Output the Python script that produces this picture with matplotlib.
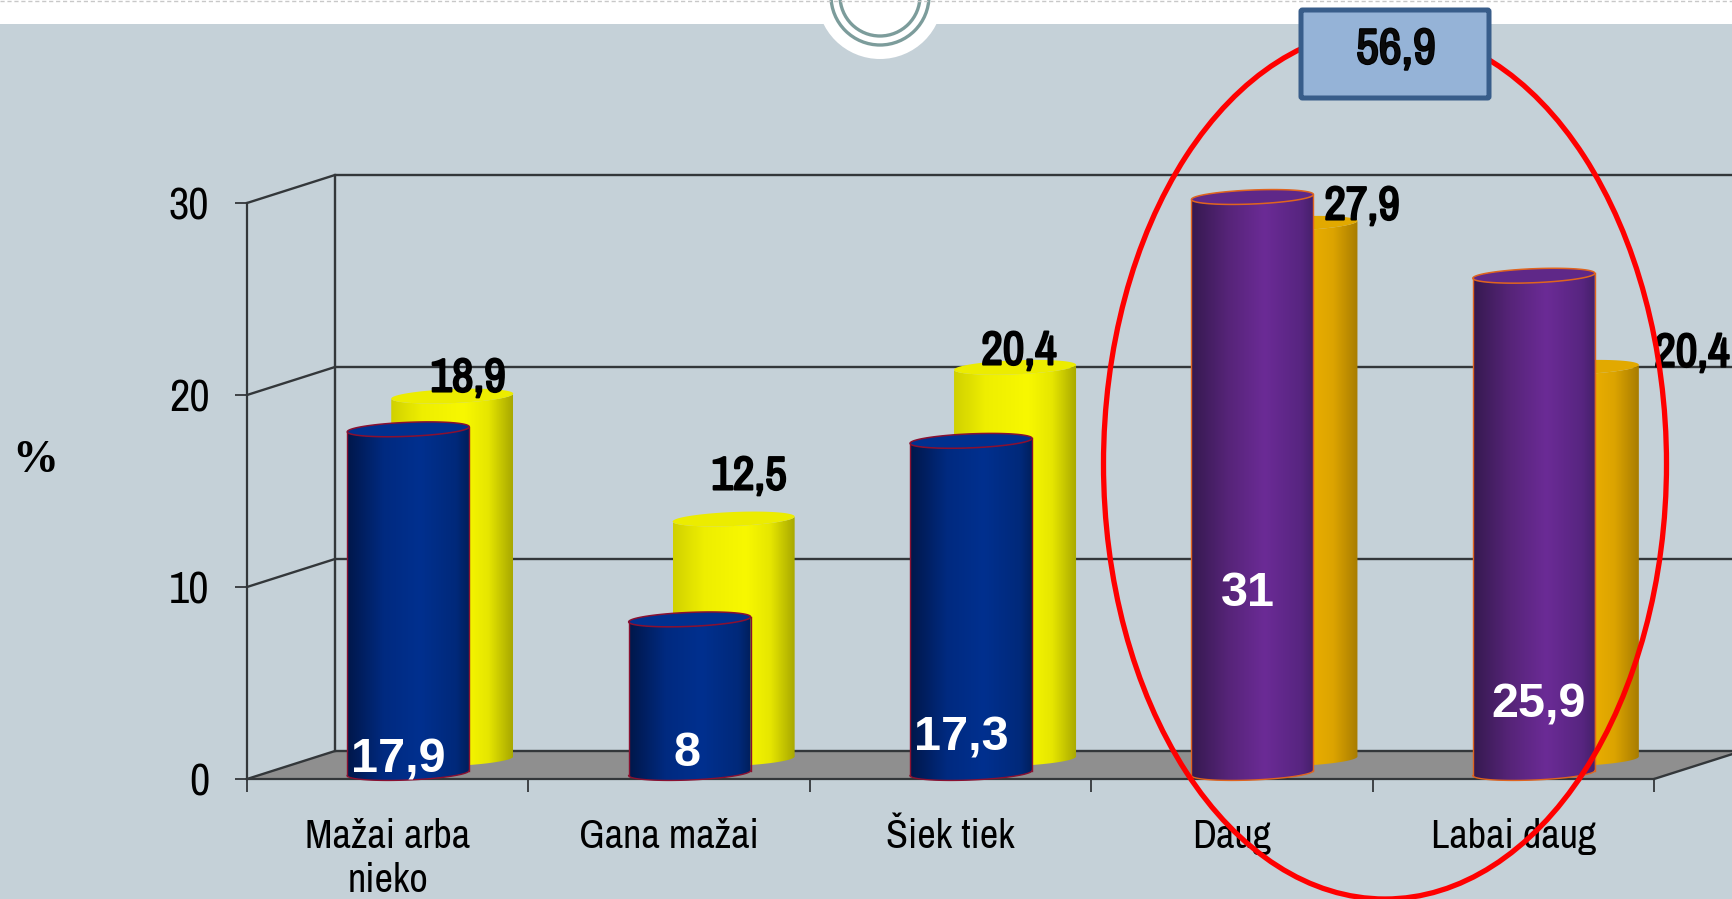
# -*- coding: utf-8 -*-
import numpy as np
import matplotlib
matplotlib.use('Agg')
import matplotlib.pyplot as plt
import matplotlib.patheffects as pe
from matplotlib.colors import LinearSegmentedColormap
from matplotlib.patches import Circle, Ellipse, FancyBboxPatch, PathPatch, Polygon
from matplotlib.path import Path

# --- Dados ---
categorias = ['Mažai arba\nnieko', 'Gana mažai', 'Šiek tiek', 'Daug', 'Labai daug']
valores_frente = [17.9, 8, 17.3, 31, 25.9]
valores_fundo = [18.9, 12.5, 20.4, 27.9, 20.4]
rotulos_frente = ['17,9', '8', '17,3', '31', '25,9']
rotulos_fundo = ['18,9', '12,5', '20,4', '27,9', '20,4']
ticks_y = [0, 10, 20, 30]
total_destaque = '56,9'

# --- Layout em pixels ---
W, H = 1732, 899
X0, X1 = 247, 1654     # plano da frente
Y0, Y30 = 779, 203
DX_PX, DY_PX = 88, 28  # profundidade
YMAX = 30

NARROW = ['Archivo Narrow', 'Liberation Sans', 'DejaVu Sans']
SANS = ['Liberation Sans', 'DejaVu Sans']
COR_FUNDO = '#c5d1d8'
COR_LINHA = '#33373a'
# Archivo Narrow não tem bold aqui, o traço engrossa o texto
NEGRITO = [pe.withStroke(linewidth=1.5, foreground='black')]

fig = plt.figure(figsize=(W / 100, H / 100), dpi=100, facecolor=COR_FUNDO)

# camada de fundo em pixels
bg = fig.add_axes([0, 0, 1, 1], zorder=0)
bg.set_xlim(0, W)
bg.set_ylim(H, 0)
bg.axis('off')
bg.fill_between([0, W], 0, 24, color='white', lw=0)
bg.plot([0, W], [0.5, 0.5], color='#c8c8c8', lw=1, ls=(0, (3, 2)))
bg.add_patch(Circle((880, -4), 63, fc='white', ec='none'))
bg.add_patch(Circle((880, -4), 49, fc='none', ec='#7c9c9b', lw=2.4))
bg.add_patch(Circle((880, -4), 40, fc='none', ec='#7c9c9b', lw=2.4))

# --- Eixo principal ---
ax = fig.add_axes([X0 / W, 1 - Y0 / H, (X1 - X0) / W, (Y0 - Y30) / H], zorder=1)
ax.patch.set_alpha(0)
n = len(categorias)
ax.set_xlim(0, n)
ax.set_ylim(0, YMAX)
px_x = n / (X1 - X0)
px_y = YMAX / (Y0 - Y30)
dx, dy = DX_PX * px_x, DY_PX * px_y

for s in ['top', 'right']:
    ax.spines[s].set_visible(False)
for s in ['left', 'bottom']:
    ax.spines[s].set_color(COR_LINHA)
    ax.spines[s].set_linewidth(1.6)

ax.set_yticks(ticks_y)
ax.set_xticks(np.arange(n + 1))
ax.set_xticklabels([])
ax.set_xticks(np.arange(n) + 0.5, categorias, minor=True)
ax.tick_params(axis='y', length=9, width=1.3, color=COR_LINHA, pad=18)
ax.tick_params(axis='x', which='major', length=9, width=1.3, color=COR_LINHA)
ax.tick_params(axis='x', which='minor', length=0, pad=28)
for t in ax.get_yticklabels() + ax.get_xticklabels(minor=True):
    t.set_fontfamily(NARROW)
for t in ax.get_yticklabels():
    t.set_fontsize(32)
for t in ax.get_xticklabels(minor=True):
    t.set_fontsize(29)
    t.set_linespacing(1.25)

# parede do fundo e chão
ax.add_patch(Polygon([(0, 0), (n, 0), (n + dx, dy), (dx, dy)], closed=True,
                     fc='#8f8f8f', ec='none', clip_on=False, zorder=1))
for v in ticks_y:
    ax.plot([0, dx, n + dx], [v, v + dy, v + dy], color=COR_LINHA, lw=1.7,
            clip_on=False, zorder=1.5)
ax.plot([dx, dx], [dy, YMAX + dy], color=COR_LINHA, lw=1.7, clip_on=False, zorder=1.5)
ax.plot([n, n + dx], [0, dy], color=COR_LINHA, lw=1.7, clip_on=False, zorder=1.5)


def cilindro(cx, v, base_px, cmap, cor_topo, cor_borda, z):
    """Cilindro com gradiente horizontal; a altura vem da escala do eixo."""
    a = 61 * px_x
    b = 7 * px_y
    incl = 2.5 * px_y
    y0 = base_px * px_y
    y1 = y0 + min(v, YMAX)
    t = np.linspace(np.pi, 2 * np.pi, 60)
    xs = cx + a * np.cos(t)
    arco = b * np.sin(t) + incl * np.cos(t)
    xy = np.r_[np.c_[xs, y0 + arco], np.c_[xs[::-1], y1 + arco[::-1]]]
    xy = np.r_[xy, xy[:1]]
    corpo = PathPatch(Path(xy), transform=ax.transData, fc='none', ec='none')
    ax.add_patch(corpo)
    grad = np.linspace(0, 1, 256).reshape(1, -1)
    im = ax.imshow(grad, cmap=cmap, aspect='auto', zorder=z,
                   extent=[cx - a, cx + a, y0 - 2 * b, y1 + 2 * b])
    im.set_clip_path(corpo)
    im.set_clip_box(fig.bbox)
    tt = np.linspace(0, 2 * np.pi, 120)
    ex = cx + a * np.cos(tt)
    ey = y1 + b * np.sin(tt) + incl * np.cos(tt)
    ax.fill(ex, ey, fc=cor_topo, ec=cor_borda or 'none', lw=1.1, clip_on=False, zorder=z + 0.1)
    if cor_borda:
        ax.plot(np.r_[xs[0], xs[0]], [y0 + arco[0], y1 + arco[0]], color=cor_borda, lw=1,
                clip_on=False, zorder=z + 0.1)
        ax.plot(np.r_[xs[-1], xs[-1]], [y0 + arco[-1], y1 + arco[-1]], color=cor_borda, lw=1,
                clip_on=False, zorder=z + 0.1)
        ax.plot(xs, y0 + arco, color=cor_borda, lw=1, clip_on=False, zorder=z + 0.1)


def mapa(nome, cores):
    return LinearSegmentedColormap.from_list(nome, cores)


azul = mapa('azul', [(0, '#00174a'), (0.3, '#002a80'), (0.6, '#00308f'), (0.9, '#00297a'), (1, '#001f5c')])
roxo = mapa('roxo', [(0, '#35194f'), (0.3, '#562478'), (0.6, '#6b2b96'), (0.9, '#572580'), (1, '#45206a')])
amarelo = mapa('amarelo', [(0, '#d0d000'), (0.25, '#eeee00'), (0.6, '#f8f800'), (0.8, '#e6e600'), (1, '#a8a800')])
laranja = mapa('laranja', [(0, '#e8ac00'), (0.5, '#f4b500'), (0.8, '#dca400'), (1, '#a87c00')])

POS_FRENTE = 0.573
POS_FUNDO = POS_FRENTE + 44 * px_x
for i in range(n):
    destaque = i >= 3
    cilindro(i + POS_FUNDO, valores_fundo[i], 20, laranja if destaque else amarelo,
             '#e2a900' if destaque else '#ecec00', None, 2)
    cilindro(i + POS_FRENTE, valores_frente[i], 6, roxo if destaque else azul,
             '#5f2888' if destaque else '#00308f',
             '#e0641e' if destaque else '#8a1030', 3)

ax.set_xlim(0, n)
ax.set_ylim(0, YMAX)

# --- Camada superior (rótulos, elipse, caixa) em pixels ---
over = fig.add_axes([0, 0, 1, 1], zorder=2)
over.set_xlim(0, W)
over.set_ylim(H, 0)
over.axis('off')

pos_fundo = [(468, 378), (749, 476), (1019, 351), (1362, 206), (1692, 353)]
pos_frente = [(398, 760), (687, 753), (961, 738), (1248, 594), (1539, 705)]
for s, (x, y) in zip(rotulos_fundo, pos_fundo):
    over.text(x, y, s, family=NARROW, fontsize=34, color='black', ha='center', va='center',
              zorder=1, path_effects=NEGRITO)
for s, (x, y) in zip(rotulos_frente, pos_frente):
    over.text(x, y, s, family=SANS, weight='bold', fontsize=35, color='white',
              ha='center', va='center', zorder=1)

over.text(35, 461, '%', family=['Liberation Serif', 'DejaVu Serif'], weight='bold',
          fontsize=33, color='black', ha='center', va='center')

over.add_patch(Ellipse((1385, 464), 563, 870, fc='none', ec='#ff0000', lw=3.8, zorder=2))
over.add_patch(FancyBboxPatch((1301, 10), 188, 88, boxstyle='round,pad=0,rounding_size=1.5',
                              fc='#95b3d7', ec='#385d8a', lw=3.6, zorder=3))
over.text(1396, 50, total_destaque, family=NARROW, fontsize=36, color='#0a0a0a',
          ha='center', va='center', zorder=4, path_effects=NEGRITO)

fig.savefig('out.png', dpi=100, facecolor=COR_FUNDO)
